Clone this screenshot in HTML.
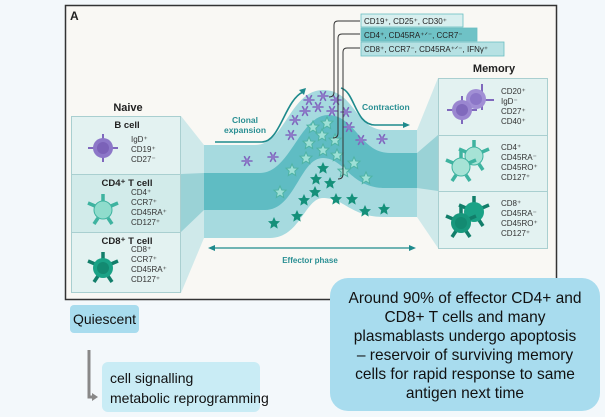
<!DOCTYPE html>
<html><head><meta charset="utf-8"><style>
html,body{margin:0;padding:0;background:#f3f8fb;}
body{width:605px;height:417px;position:relative;overflow:hidden;font-family:"Liberation Sans",sans-serif;}
</style></head><body>
<svg width="605" height="417" viewBox="0 0 605 417" xmlns="http://www.w3.org/2000/svg" style="position:absolute;left:0;top:0" font-family="Liberation Sans, sans-serif">
<defs>
<g id="ast"><g stroke="#7f68bd" stroke-width="1.6" stroke-linecap="round"><line x1="-5" y1="0" x2="5" y2="0"/><line x1="-2.5" y1="-4.3" x2="2.5" y2="4.3"/><line x1="2.5" y1="-4.3" x2="-2.5" y2="4.3"/></g><circle r="2.3" fill="#8d78c8"/></g>
<polygon id="st" points="0,-6 1.8,-2 6,-1.8 2.8,1.2 3.7,5.6 0,3.2 -3.7,5.6 -2.8,1.2 -6,-1.8 -1.8,-2"/>
<g id="lst"><use href="#st" fill="#9ee0d6" stroke="#4fb3a4" stroke-width="1"/></g>
<g id="dst"><use href="#st" fill="#14907a"/></g>
<g id="tcell"><g stroke-width="3.5"><line x1="0" y1="-9" x2="0" y2="-16"/><line x1="8" y1="-4" x2="15" y2="-7"/><line x1="-8" y1="-4" x2="-15" y2="-7"/><line x1="5" y1="8" x2="9" y2="14"/><line x1="-5" y1="8" x2="-9" y2="14"/></g></g>
</defs>
<rect x="65.5" y="5.5" width="491" height="294" fill="#f9f8f4" stroke="#333" stroke-width="1.5"/>
<text x="70" y="20" font-size="12" font-weight="bold" fill="#222">A</text>
<polygon points="181,116 204,145 204,238 181,293" fill="#cfe9ea"/>
<polygon points="181,174 204,173 204,210 181,232" fill="#9ad2d6"/>
<polygon points="417,130 438,78 438,248 417,217" fill="#cfe9ea"/>
<polygon points="417,153 438,135 438,191 417,188" fill="#9ad2d6"/>
<path d="M204,145 L255,145 C285,145 290,90 323,90 C355,90 355,130 385,130 L417,130 L417,217 L385,217 C350,217 345,198 323,198 C305,198 300,238 270,238 L204,238 Z" fill="#a6dadf"/>
<path d="M204,173 L260,173 C290,173 300,115 328,115 C355,115 360,153 390,153 L417,153 L417,188 L385,188 C350,188 345,158 323,158 C300,158 295,210 265,210 L204,210 Z" fill="#5fbcc3"/>
<path d="M215,142 L262,142 C280,142 285,100 303,92" fill="none" stroke="#1e8a8c" stroke-width="1.6"/>
<polygon points="306,88 299,90 304,95" fill="#1e8a8c"/>
<path d="M341,88 C355,92 355,125 375,125 L407,125" fill="none" stroke="#1e8a8c" stroke-width="1.6"/>
<polygon points="410,125 403,122 403,128" fill="#1e8a8c"/>
<text x="245" y="123" font-size="8.5" font-weight="bold" fill="#2a8f93" text-anchor="middle">Clonal</text>
<text x="245" y="133" font-size="8.5" font-weight="bold" fill="#2a8f93" text-anchor="middle">expansion</text>
<text x="362" y="110" font-size="8.5" font-weight="bold" fill="#2a8f93">Contraction</text>
<line x1="213" y1="248" x2="412" y2="248" stroke="#1e8a8c" stroke-width="1.2"/>
<polygon points="208,248 215,245 215,251" fill="#1e8a8c"/>
<polygon points="416,248 409,245 409,251" fill="#1e8a8c"/>
<text x="310" y="263" font-size="8" font-weight="bold" fill="#2a8f93" text-anchor="middle">Effector phase</text>
<use href="#ast" x="247" y="161"/><use href="#ast" x="273" y="157"/><use href="#ast" x="291" y="135"/><use href="#ast" x="295" y="120"/><use href="#ast" x="305" y="111"/><use href="#ast" x="309" y="100"/><use href="#ast" x="318" y="107"/><use href="#ast" x="323" y="96"/><use href="#ast" x="332" y="111"/><use href="#ast" x="336" y="100"/><use href="#ast" x="346" y="112"/><use href="#ast" x="349" y="127"/><use href="#ast" x="361" y="140"/><use href="#ast" x="382" y="139"/>
<use href="#lst" x="313" y="127"/><use href="#lst" x="327" y="123"/><use href="#lst" x="322" y="135"/><use href="#lst" x="309" y="143"/><use href="#lst" x="323" y="150"/><use href="#lst" x="335" y="140"/><use href="#lst" x="337" y="155"/><use href="#lst" x="306" y="158"/><use href="#lst" x="292" y="170"/><use href="#lst" x="280" y="192"/><use href="#lst" x="354" y="163"/><use href="#lst" x="366" y="178"/><use href="#lst" x="344" y="171"/>
<use href="#dst" x="323" y="168"/><use href="#dst" x="316" y="179"/><use href="#dst" x="330" y="183"/><use href="#dst" x="315" y="192"/><use href="#dst" x="304" y="200"/><use href="#dst" x="336" y="199"/><use href="#dst" x="352" y="199"/><use href="#dst" x="365" y="211"/><use href="#dst" x="384" y="209"/><use href="#dst" x="297" y="216"/><use href="#dst" x="274" y="223"/>
<g fill="none" stroke="#333" stroke-width="1"><path d="M360,21 L338,21 Q334,21 334,25 L334,92 Q334,97 329,97"/><path d="M360,34 L342,34 Q338,34 338,38 L338,133 Q338,138 333,138"/><path d="M360,48 L347,48 Q343,48 343,52 L343,174 Q343,179 338,179"/></g>
<rect x="361" y="14" width="102" height="13" fill="#d8efef" stroke="#6bbfc2" stroke-width="0.8"/>
<text x="364" y="24" font-size="8" fill="#222">CD19⁺, CD25⁺, CD30⁺</text>
<rect x="361" y="28" width="116" height="13" fill="#6fc2c6" stroke="#6bbfc2" stroke-width="0.8"/>
<text x="364" y="38" font-size="8" fill="#222">CD4⁺, CD45RA⁺ᐟ⁻, CCR7⁻</text>
<rect x="361" y="42" width="143" height="14" fill="#b6e1e3" stroke="#6bbfc2" stroke-width="0.8"/>
<text x="364" y="52" font-size="8" fill="#222">CD8⁺, CCR7⁻, CD45RA⁺ᐟ⁻, IFNγ⁺</text>
<text x="128" y="111" font-size="11" font-weight="bold" fill="#222" text-anchor="middle">Naive</text>
<rect x="71.5" y="116.5" width="109" height="58" fill="#e3f2f1" stroke="#a9cfd0"/>
<rect x="71.5" y="174.5" width="109" height="58" fill="#d2ebea" stroke="#a9cfd0"/>
<rect x="71.5" y="232.5" width="109" height="60" fill="#e3f2f1" stroke="#a9cfd0"/>
<text x="127" y="128" font-size="9.5" font-weight="bold" fill="#222" text-anchor="middle">B cell</text>
<text x="127" y="186" font-size="9.5" font-weight="bold" fill="#222" text-anchor="middle">CD4⁺ T cell</text>
<text x="127" y="244" font-size="9.5" font-weight="bold" fill="#222" text-anchor="middle">CD8⁺ T cell</text>
<g font-size="8" fill="#333"><text x="131" y="142">IgD⁺</text><text x="131" y="152">CD19⁺</text><text x="131" y="162">CD27⁻</text>
<text x="131" y="195">CD4⁺</text><text x="131" y="205">CCR7⁺</text><text x="131" y="215">CD45RA⁺</text><text x="131" y="225">CD127⁺</text>
<text x="131" y="252">CD8⁺</text><text x="131" y="262">CCR7⁺</text><text x="131" y="272">CD45RA⁺</text><text x="131" y="282">CD127⁺</text></g>
<g stroke="#7f68bd" stroke-width="2"><line x1="88" y1="148" x2="118" y2="148"/><line x1="103" y1="134" x2="103" y2="162"/></g>
<circle cx="103" cy="148" r="10" fill="#8c77c8"/><circle cx="103" cy="148" r="6" fill="#7b62b8"/>
<use href="#tcell" x="103" y="210" stroke="#3eb3a0"/><circle cx="103" cy="210" r="9" fill="#8fdccc" stroke="#3eb3a0"/>
<use href="#tcell" x="103" y="268" stroke="#127e6a"/><circle cx="103" cy="268" r="10" fill="#1aa286"/><circle cx="103" cy="268" r="6" fill="#138a71"/>
<text x="494" y="72" font-size="11" font-weight="bold" fill="#222" text-anchor="middle">Memory</text>
<rect x="438.5" y="78.5" width="109" height="57" fill="#e3f2f1" stroke="#a9cfd0"/>
<rect x="438.5" y="135.5" width="109" height="56" fill="#e3f2f1" stroke="#a9cfd0"/>
<rect x="438.5" y="191.5" width="109" height="57" fill="#e3f2f1" stroke="#a9cfd0"/>
<g font-size="8" fill="#333"><text x="501" y="94">CD20⁺</text><text x="501" y="104">IgD⁻</text><text x="501" y="114">CD27⁺</text><text x="501" y="124">CD40⁺</text>
<text x="501" y="150">CD4⁺</text><text x="501" y="160">CD45RA⁻</text><text x="501" y="170">CD45RO⁺</text><text x="501" y="180">CD127⁺</text>
<text x="501" y="206">CD8⁺</text><text x="501" y="216">CD45RA⁻</text><text x="501" y="226">CD45RO⁺</text><text x="501" y="236">CD127⁺</text></g>
<g stroke="#7f68bd" stroke-width="2"><line x1="470" y1="100" x2="494" y2="100"/><line x1="482" y1="84" x2="482" y2="110"/><line x1="447" y1="110" x2="477" y2="110"/><line x1="462" y1="96" x2="462" y2="124"/></g>
<circle cx="476" cy="99" r="10" fill="#a18fd5"/><circle cx="476" cy="99" r="6" fill="#8c77c8"/>
<circle cx="462" cy="110" r="10" fill="#9a86d0"/><circle cx="462" cy="110" r="6" fill="#8069bc"/>
<use href="#tcell" x="474" y="156" stroke="#3eb3a0"/><circle cx="474" cy="156" r="9" fill="#a6e3d6" stroke="#3eb3a0"/>
<use href="#tcell" x="461" y="167" stroke="#3eb3a0"/><circle cx="461" cy="167" r="9" fill="#a6e3d6" stroke="#3eb3a0"/>
<use href="#tcell" x="474" y="212" stroke="#127e6a"/><circle cx="474" cy="212" r="10" fill="#1aa286"/>
<use href="#tcell" x="461" y="223" stroke="#127e6a"/><circle cx="461" cy="223" r="10" fill="#17977c"/><circle cx="461" cy="223" r="6" fill="#138a71"/>
<rect x="70" y="305" width="69" height="28" rx="4" fill="#a8dcee"/>
<text x="104.5" y="324" font-size="14" fill="#111" text-anchor="middle">Quiescent</text>
<path d="M89,350 L89,397 L95,397" fill="none" stroke="#888" stroke-width="3"/>
<polygon points="98,397 92,393 92,401" fill="#888"/>
<rect x="102" y="362" width="158" height="50" rx="6" fill="#c9ecf5"/>
<text x="110" y="383" font-size="14" fill="#111">cell signalling</text>
<text x="110" y="403" font-size="14" fill="#111">metabolic reprogramming</text>
<rect x="330" y="278" width="270" height="133" rx="18" fill="#a8dcee"/>
<g font-size="16" fill="#111" text-anchor="middle" transform="translate(465,0) scale(0.97,1) translate(-465,0)"><text x="465" y="303">Around 90% of effector CD4+ and</text><text x="465" y="322">CD8+ T cells and many</text><text x="465" y="341">plasmablasts undergo apoptosis</text><text x="465" y="360">– reservoir of surviving memory</text><text x="465" y="379">cells for rapid response to same</text><text x="465" y="398">antigen next time</text></g>
</svg>
</body></html>
